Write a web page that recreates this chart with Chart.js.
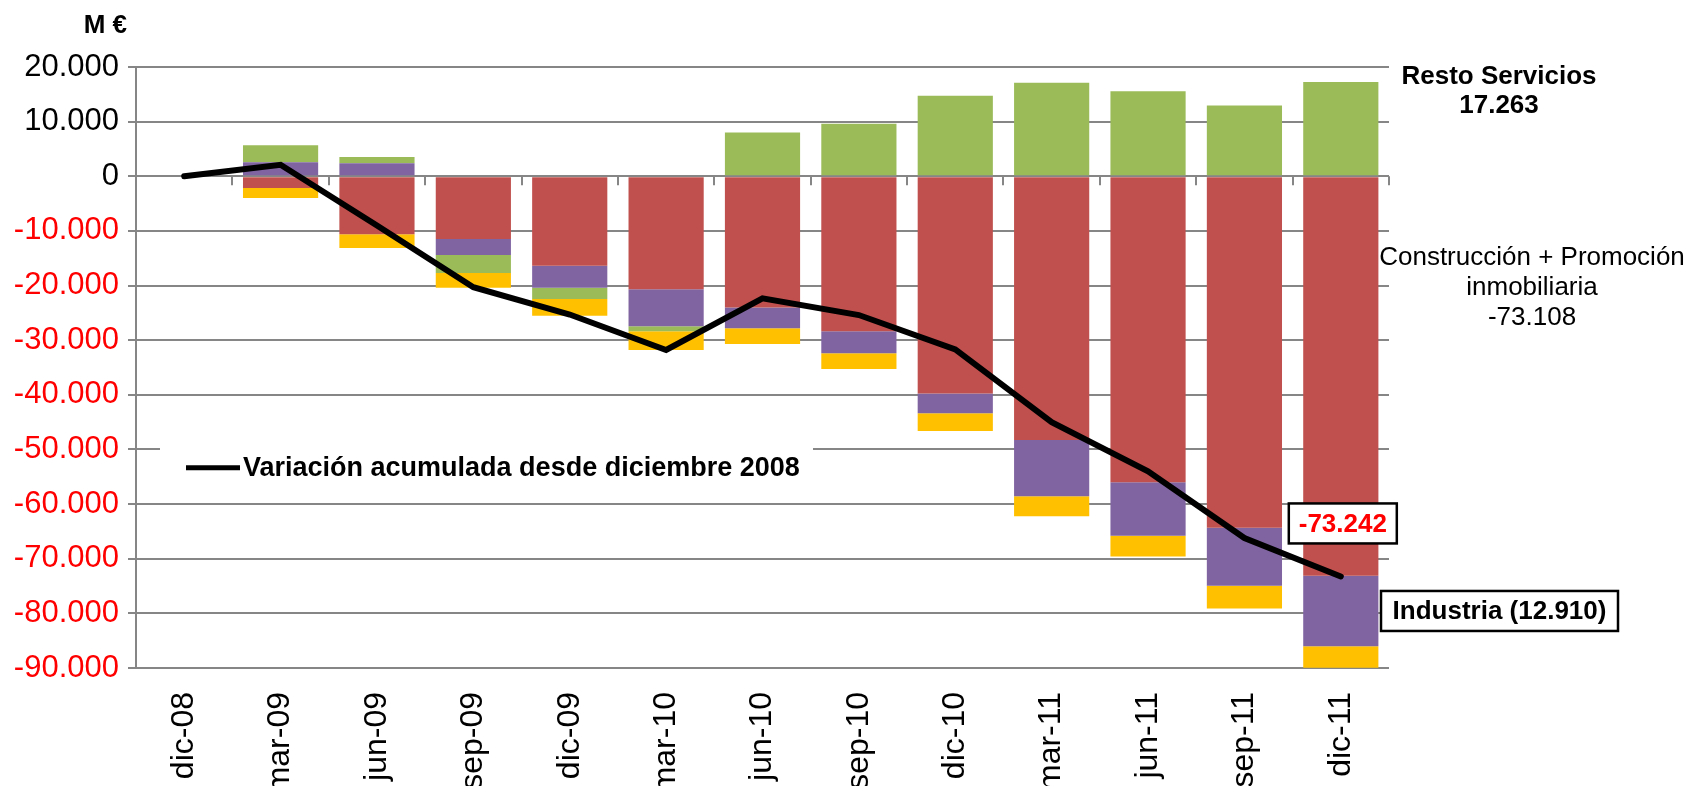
<!DOCTYPE html>
<html>
<head>
<meta charset="utf-8">
<script src="https://cdn.jsdelivr.net/npm/chart.js@4.4.1/dist/chart.umd.min.js"></script>
<style>
  html, body { margin: 0; padding: 0; background: #ffffff; }
  canvas { display: block; }
</style>
</head>
<body>
<canvas id="c" width="1693" height="786"></canvas>
<script>
// ---- Data (millones de euros) ----
const categories = ['dic-08','mar-09','jun-09','sep-09','dic-09','mar-10','jun-10','sep-10','dic-10','mar-11','jun-11','sep-11','dic-11'];
const construccion = [0, -2140, -10610, -11470, -16360, -20700, -24000, -28350, -39780, -48290, -56000, -64310, -73108];
const industria = [0, 2560, 2380, -2930, -4040, -6730, -3800, -4040, -3610, -10280, -9780, -10640, -12910];
const restoServicios = [0, 3110, 1150, -3310, -2080, -920, 8020, 9600, 14750, 17140, 15540, 12970, 17263];
const otros = [0, -1830, -2500, -2690, -3050, -3430, -2880, -2880, -3250, -3670, -3800, -4170, -3950];
const variacionAcumulada = [0, 2100, -9000, -20300, -25300, -31800, -22350, -25400, -31700, -45000, -54000, -66200, -73242];
const yTickMin = -90000, yTickMax = 20000, yTickStep = 10000;

const FONT = "'Liberation Sans', Arial, Helvetica, sans-serif";
Chart.defaults.font.family = FONT;
Chart.defaults.color = '#000000';

function fmt(v) {
  const s = Math.abs(Math.round(v)).toString().replace(/\B(?=(\d{3})+(?!\d))/g, '.');
  return (v < 0 ? '-' : '') + s;
}

const GRID = '#868686';

const annotations = {
  id: 'annotations',
  beforeDatasetsDraw(chart) {
    const ctx = chart.ctx;
    const y = chart.scales.y;
    const ca = chart.chartArea;
    // category tick marks on the zero line
    const y0 = y.getPixelForValue(0);
    const n = categories.length;
    ctx.save();
    ctx.strokeStyle = GRID;
    ctx.lineWidth = 2;
    for (let i = 1; i <= n; i++) {
      const px = Math.round(ca.left + i * (ca.right - ca.left) / n);
      ctx.beginPath();
      ctx.moveTo(px, y0);
      ctx.lineTo(px, y0 + 9);
      ctx.stroke();
    }
    // legend box (white, covering grid)
    const ly = y.getPixelForValue(-55000);
    ctx.fillStyle = '#ffffff';
    ctx.fillRect(ca.left + 24, ly - 38, 653, 60);
    ctx.strokeStyle = '#000000';
    ctx.lineWidth = 5;
    ctx.beginPath();
    ctx.moveTo(ca.left + 50, ly - 9);
    ctx.lineTo(ca.left + 104, ly - 9);
    ctx.stroke();
    ctx.fillStyle = '#000000';
    ctx.font = 'bold 27px ' + FONT;
    ctx.textAlign = 'left';
    ctx.textBaseline = 'middle';
    ctx.fillText(chart.data.datasets[4].label, ca.left + 107, ly - 8);
    ctx.restore();
  },
  afterDraw(chart) {
    const ctx = chart.ctx;
    const x = chart.scales.x, y = chart.scales.y;
    const ca = chart.chartArea;
    const last = categories.length - 1;
    ctx.save();
    // axis unit
    ctx.fillStyle = '#000';
    ctx.font = 'bold 26px ' + FONT;
    ctx.textAlign = 'right';
    ctx.textBaseline = 'middle';
    ctx.fillText('M €', ca.left - 9, 26);

    // Resto Servicios
    ctx.textAlign = 'center';
    ctx.fillText('Resto Servicios', ca.right + 110, 77);
    ctx.fillText(fmt(restoServicios[last]), ca.right + 110, 106);

    // Construcción
    ctx.font = '26px ' + FONT;
    ctx.fillText('Construcción + Promoción', ca.right + 143, 258);
    ctx.fillText('inmobiliaria', ca.right + 143, 288);
    ctx.fillText(fmt(construccion[last]), ca.right + 143, 318);

    // last value of the line
    const lx = x.getPixelForValue(last);
    const lyv = y.getPixelForValue(variacionAcumulada[last]);
    const bw = 108, bh = 40;
    const bx = lx + 2 - bw / 2, by = lyv - 53 - bh / 2;
    ctx.fillStyle = '#fff';
    ctx.fillRect(bx, by, bw, bh);
    ctx.strokeStyle = '#000';
    ctx.lineWidth = 2.5;
    ctx.strokeRect(bx, by, bw, bh);
    ctx.fillStyle = '#FF0000';
    ctx.font = 'bold 26px ' + FONT;
    ctx.fillText(fmt(variacionAcumulada[last]), bx + bw / 2, by + bh / 2 + 1);

    // Industria label
    const iy = y.getPixelForValue(construccion[last] + industria[last] / 2);
    const iw = 237, ih = 40;
    const ix = ca.right - 8;
    ctx.fillStyle = '#fff';
    ctx.fillRect(ix, iy - ih / 2, iw, ih);
    ctx.strokeStyle = '#000';
    ctx.strokeRect(ix, iy - ih / 2, iw, ih);
    ctx.fillStyle = '#000';
    ctx.fillText('Industria (' + fmt(Math.abs(industria[last])) + ')', ix + iw / 2, iy + 1);
    ctx.restore();
  }
};

const barCommon = { stack: 'bars', order: 1, barPercentage: 0.78, categoryPercentage: 1.0, borderWidth: 0 };

new Chart(document.getElementById('c'), {
  type: 'bar',
  data: {
    labels: categories,
    datasets: [
      Object.assign({ label: 'Construcción + Promoción inmobiliaria', data: construccion, backgroundColor: '#C0504D' }, barCommon),
      Object.assign({ label: 'Industria', data: industria, backgroundColor: '#8064A2' }, barCommon),
      Object.assign({ label: 'Resto Servicios', data: restoServicios, backgroundColor: '#9BBB59' }, barCommon),
      Object.assign({ label: 'Resto', data: otros, backgroundColor: '#FFC000' }, barCommon),
      {
        type: 'line',
        label: 'Variación acumulada desde diciembre 2008',
        data: variacionAcumulada,
        stack: 'line',
        order: 0,
        borderColor: '#000000',
        backgroundColor: '#000000',
        borderWidth: 6,
        pointRadius: 0,
        tension: 0,
        fill: false,
        borderCapStyle: 'round'
      }
    ]
  },
  options: {
    responsive: false,
    animation: false,
    devicePixelRatio: 1,
    layout: { padding: { left: 8, right: 304, top: 67, bottom: 0 } },
    plugins: { legend: { display: false }, tooltip: { enabled: false } },
    scales: {
      x: {
        stacked: true,
        grid: { display: false, drawTicks: false },
        border: { display: false },
        ticks: {
          maxRotation: 90, minRotation: 90, padding: 24,
          font: { size: 32 }, color: '#000'
        },
        afterFit(scale) { scale.height = 118; }
      },
      y: {
        stacked: true,
        min: yTickMin, max: yTickMax,
        grid: { color: GRID, lineWidth: 2, tickLength: 8, drawTicks: true },
        border: { display: true, color: GRID, width: 2 },
        ticks: {
          stepSize: yTickStep,
          padding: 9,
          font: { size: 31 },
          color: (c) => (c.tick && c.tick.value < 0) ? '#FF0000' : '#000000',
          callback: (v) => fmt(v)
        },
        afterFit(scale) { scale.width = 128; }
      }
    }
  },
  plugins: [annotations]
});
</script>
</body>
</html>
